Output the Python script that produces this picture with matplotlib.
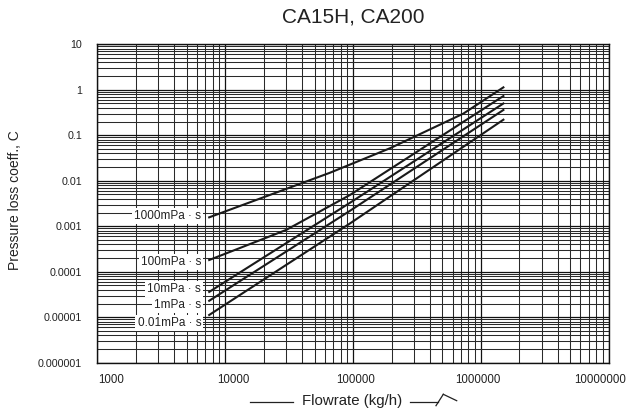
import matplotlib
matplotlib.use("Agg")
import matplotlib.pyplot as plt
from matplotlib.lines import Line2D
from matplotlib.transforms import ScaledTranslation
from matplotlib.ticker import LogLocator, FixedLocator, FixedFormatter, NullFormatter

plt.rcParams['font.family'] = ['Liberation Sans', 'DejaVu Sans']

title = "CA15H, CA200"
x_label = "Flowrate (kg/h)"
y_label = "Pressure loss coeff., C"

x_ticks = [1e3, 1e4, 1e5, 1e6, 1e7]
x_tick_labels = ["1000", "10000", "100000", "1000000", "10000000"]
y_ticks = [1e-6, 1e-5, 1e-4, 1e-3, 1e-2, 1e-1, 1, 10]
y_tick_labels = ["0.000001", "0.00001", "0.0001", "0.001", "0.01", "0.1", "1", "10"]

# series (viscosity curves)
x_1000 = [7500, 66000, 195000, 730000, 1500000]
y_1000 = [1.57e-3, 0.0150, 0.052, 0.30, 1.13]

x_100 = [7500, 30000, 95000, 1500000]
y_100 = [1.81e-4, 8.3e-4, 4.9e-3, 0.73]

x_10 = [7500, 95000, 1500000]
y_10 = [3.6e-5, 3.3e-3, 0.50]

x_1 = [7500, 95000, 1500000]
y_1 = [2.3e-5, 2.2e-3, 0.36]

x_001 = [7500, 95000, 1500000]
y_001 = [1.12e-5, 1.16e-3, 0.22]

labels = ["1000mPa · s", "100mPa · s", "10mPa · s", "1mPa · s", "0.01mPa · s"]
label_y = [1.68e-3, 1.66e-4, 4.1e-5, 1.86e-5, 7.6e-6]
label_x = 6500

fig = plt.figure(figsize=(6.31, 4.11), dpi=100)
ax = fig.add_axes([0.1542, 0.1175, 0.8105, 0.7747])
ax.set_xscale('log')
ax.set_yscale('log')
ax.set_xlim(1e3, 1e7)
ax.set_ylim(1e-6, 10)

ax.xaxis.set_major_locator(FixedLocator(x_ticks))
ax.xaxis.set_major_formatter(FixedFormatter(x_tick_labels))
ax.yaxis.set_major_locator(FixedLocator(y_ticks))
ax.yaxis.set_major_formatter(FixedFormatter(y_tick_labels))
ax.xaxis.set_minor_locator(LogLocator(base=10, subs=range(2, 10), numticks=20))
ax.yaxis.set_minor_locator(LogLocator(base=10, subs=range(2, 10), numticks=20))
ax.xaxis.set_minor_formatter(NullFormatter())
ax.yaxis.set_minor_formatter(NullFormatter())
ax.tick_params(which='both', length=0)
ax.tick_params(axis='x', pad=8, labelsize=8.3, colors='#222')
ax.tick_params(axis='y', pad=11, labelsize=7.7, colors='#222')

ax.grid(which='major', color='#111', linewidth=0.9)
ax.grid(which='minor', color='#2a2a2a', linewidth=0.75)
ax.set_axisbelow(True)
for s in ax.spines.values():
    s.set_color('#111')
    s.set_linewidth(1.0)

for xs, ys in [(x_1000, y_1000), (x_100, y_100), (x_10, y_10), (x_1, y_1), (x_001, y_001)]:
    ax.plot(xs, ys, color='#1a1a1a', linewidth=1.5, zorder=3)

for lab, ly in zip(labels, label_y):
    ax.text(label_x, ly, lab, ha='right', va='center', fontsize=8.5, color='#222',
            bbox=dict(facecolor='white', edgecolor='none', pad=1.5), zorder=4)

# shift x tick labels as in the reference
fig.canvas.draw()
shifts_px = [14, 8, 3, -3, -9]
for lbl, sh in zip(ax.get_xticklabels(), shifts_px):
    lbl.set_transform(lbl.get_transform() + ScaledTranslation(sh / 100, 0, fig.dpi_scale_trans))

fig.text(0.5596, 0.958, title, ha='center', va='center', fontsize=15, color='#222')
ax.set_ylabel(y_label, fontsize=10, color='#222')
ax.yaxis.set_label_coords(-0.148, 0.51)

# x label with decorative lines and arrow mark (figure pixel coords)
W, H = 631, 411
def px(x, y):
    return x / W, 1 - y / H
fig.text(*px(352.5, 401), x_label, ha='center', va='center', fontsize=10.8, color='#222')
for (xa, ya), (xb, yb) in [((250, 401.7), (293, 401.7)),
                           ((410, 401.7), (438, 401.7)),
                           ((436, 405.7), (443.3, 394.3)),
                           ((443.3, 394.3), (456.7, 400.7))]:
    a = px(xa, ya); b = px(xb, yb)
    fig.add_artist(Line2D([a[0], b[0]], [a[1], b[1]], color='#222', linewidth=0.9,
                          transform=fig.transFigure))

fig.savefig("out.png", dpi=100)
